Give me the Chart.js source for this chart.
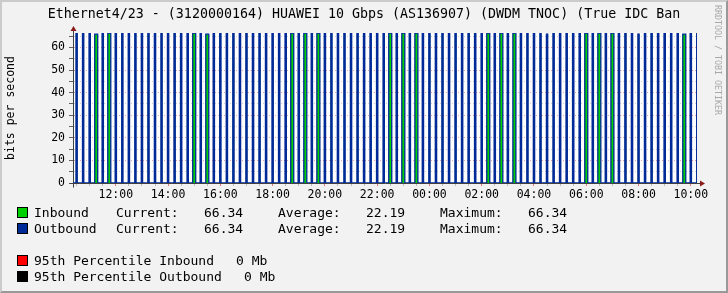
<!DOCTYPE html>
<html lang="en">
<head>
<meta charset="UTF-8">
<title>Ethernet4/23 traffic</title>
<script src="https://cdn.jsdelivr.net/npm/chart.js"></script>
<style>
    body {
        margin: 0;
        padding: 0;
        background: #f2f2f2;
    }
    #graph {
        position: relative;
        width: 728px;
        height: 293px;
        overflow: hidden;
        background: #f2f2f2;
        font-family: "DejaVu Sans Mono", monospace;
        color: #000;
    }
    #graph canvas {
        position: absolute;
        left: 0;
        top: 0;
    }
    #frame {
        position: absolute;
        left: 0;
        top: 0;
        width: 728px;
        height: 293px;
        box-sizing: border-box;
        border: 2px solid #cbcbcb;
        border-right-color: #999;
        border-bottom-color: #999;
        pointer-events: none;
    }
    #title {
        position: absolute;
        left: 0;
        top: 7px;
        width: 728px;
        text-align: center;
        font-size: 13.3px;
        line-height: 14px;
        white-space: pre;
    }
    #watermark {
        position: absolute;
        left: 713px;
        top: 5px;
        writing-mode: vertical-rl;
        font-size: 8.3px;
        color: #a8a8a8;
        white-space: pre;
    }
    .legend span {
        position: absolute;
        font-size: 13px;
        line-height: 16px;
        white-space: pre;
    }
    .swatch {
        position: absolute;
        left: 17px;
        width: 9px;
        height: 9px;
        border: 1px solid #000;
    }
</style>
</head>
<body>
<div id="graph">
    <canvas id="traffic" width="728" height="293"></canvas>
    <div id="title">Ethernet4/23 - (3120000164) HUAWEI 10 Gbps (AS136907) (DWDM TNOC) (True IDC Ban</div>
    <div id="watermark">RRDTOOL / TOBI OETIKER</div>
    <div class="legend" id="legend"></div>
    <div id="frame"></div>
</div>
<script>
    // sampled every 15 minutes, first spike at 10:30
    const firstSpike = 10.5;
    const spikeStep = 0.25;

    // peak value of each spike (bits per second)
    const inbound = [
        66.34, 66.34, 66.34, 65.9, 66.34, 66.34, 66.34, 66.34, 66.34, 66.34, 66.34, 66.34,
        66.34, 66.34, 66.34, 66.34, 66.34, 66.34, 66.34, 66.34, 65.9, 66.34, 66.34, 66.34,
        66.34, 66.34, 66.34, 66.34, 66.34, 66.34, 66.34, 66.34, 66.34, 66.34, 66.34, 66.34,
        66.34, 66.34, 66.34, 66.34, 66.34, 66.34, 66.34, 66.34, 66.34, 66.34, 66.34, 66.34,
        66.34, 66.34, 66.34, 66.34, 66.34, 66.34, 66.34, 66.34, 66.34, 66.34, 66.34, 66.34,
        66.34, 66.34, 66.34, 66.34, 66.34, 66.34, 66.34, 66.34, 66.34, 66.34, 66.34, 66.34,
        65.9, 66.34, 66.34, 66.34, 66.34, 66.34, 66.34, 66.34, 66.34, 66.34, 66.34, 66.34,
        66.34, 66.34, 65.9, 66.34, 66.34, 66.34, 66.34, 66.34, 66.34, 65.9, 66.34, 66.34
    ];
    const outbound = [
        66.34, 66.34, 66.34, 65.9, 66.34, 66.34, 66.34, 66.34, 66.34, 66.34, 66.34, 66.34,
        66.34, 66.34, 66.34, 66.34, 66.34, 66.34, 66.34, 66.34, 65.9, 66.34, 66.34, 66.34,
        66.34, 66.34, 66.34, 66.34, 66.34, 66.34, 66.34, 66.34, 66.34, 66.34, 66.34, 66.34,
        66.34, 66.34, 66.34, 66.34, 66.34, 66.34, 66.34, 66.34, 66.34, 66.34, 66.34, 66.34,
        66.34, 66.34, 66.34, 66.34, 66.34, 66.34, 66.34, 66.34, 66.34, 66.34, 66.34, 66.34,
        66.34, 66.34, 66.34, 66.34, 66.34, 66.34, 66.34, 66.34, 66.34, 66.34, 66.34, 66.34,
        65.9, 66.34, 66.34, 66.34, 66.34, 66.34, 66.34, 66.34, 66.34, 66.34, 66.34, 66.34,
        66.34, 66.34, 65.9, 66.34, 66.34, 66.34, 66.34, 66.34, 66.34, 65.9, 66.34, 66.34
    ];
    // spikes where the green inbound area shows (spread over more time)
    const wideSpikes = [3, 5, 18, 20, 33, 35, 37, 48, 50, 52, 63, 65, 67, 78, 80, 82, 93];

    // x axis in hours (past 24 means next day)
    const xMin = 10.362;
    const xMax = 34.237;
    const yMax = 66.4;

    const legendRows = [
        ['Inbound', 'Current:', '66.34', 'Average:', '22.19', 'Maximum:', '66.34'],
        ['Outbound', 'Current:', '66.34', 'Average:', '22.19', 'Maximum:', '66.34']
    ];
    const percentileRows = [
        ['95th Percentile Inbound', '0 Mb'],
        ['95th Percentile Outbound', '0 Mb']
    ];

    // legend (html text)
    const legend = document.getElementById('legend');
    const colX = [34, 116, 204, 278, 366, 440, 528];
    const swatchColors = ['#00cf00', '#002a97', '#ff0000', '#000000'];
    const rowY = [205, 221, 253, 269];
    function addText(txt, x, y) {
        const s = document.createElement('span');
        s.textContent = txt;
        s.style.left = x + 'px';
        s.style.top = y + 'px';
        legend.appendChild(s);
    }
    function addSwatch(color, y) {
        const d = document.createElement('div');
        d.className = 'swatch';
        d.style.background = color;
        d.style.top = (y + 2) + 'px';
        legend.appendChild(d);
    }
    legendRows.forEach((row, r) => {
        addSwatch(swatchColors[r], rowY[r]);
        row.forEach((txt, c) => addText(txt, colX[c], rowY[r]));
    });
    percentileRows.forEach((row, r) => {
        addSwatch(swatchColors[r + 2], rowY[r + 2]);
        addText(row[0], 34, rowY[r + 2]);
        addText(row[1], r === 0 ? 236 : 244, rowY[r + 2]);
    });

    function spikePoints(values) {
        const pts = [{x: xMin, y: 0}];
        values.forEach((v, i) => {
            const t = firstSpike + i * spikeStep;
            const half = (wideSpikes.includes(i) ? 0.115 : 0.05) / 2;
            pts.push({x: t - half, y: v}, {x: t + half, y: 0});
        });
        pts.push({x: xMax, y: 0});
        return pts;
    }

    const isMajor = (v, every) => Math.abs(v / every - Math.round(v / every)) < 1e-6;
    const tickFont = {family: 'DejaVu Sans Mono', size: 11.5};

    // white canvas behind the plot + rrdtool style arrows
    const plotDecor = {
        id: 'plotDecor',
        beforeDraw(chart) {
            const {ctx, chartArea: a} = chart;
            ctx.save();
            ctx.fillStyle = '#ffffff';
            ctx.fillRect(a.left, a.top, a.right - a.left, a.bottom - a.top);
            ctx.restore();
        },
        afterDraw(chart) {
            const {ctx, chartArea: a} = chart;
            const ax = Math.round(a.left) + 0.5;
            const ay = Math.round(a.bottom) + 0.5;
            ctx.save();
            ctx.strokeStyle = '#404040';
            ctx.lineWidth = 1;
            ctx.beginPath();
            ctx.moveTo(ax, a.top);
            ctx.lineTo(ax, a.top - 3);
            ctx.moveTo(ax, ay);
            ctx.lineTo(ax, ay + 4);
            ctx.moveTo(ax - 4, ay);
            ctx.lineTo(ax, ay);
            ctx.moveTo(a.right, ay);
            ctx.lineTo(a.right + 3, ay);
            ctx.stroke();
            ctx.fillStyle = '#8b1a1a';
            ctx.beginPath();
            ctx.moveTo(ax, a.top - 7);
            ctx.lineTo(ax - 3, a.top - 2);
            ctx.lineTo(ax + 3, a.top - 2);
            ctx.closePath();
            ctx.fill();
            ctx.beginPath();
            ctx.moveTo(a.right + 8, ay);
            ctx.lineTo(a.right + 3, ay - 3);
            ctx.lineTo(a.right + 3, ay + 3);
            ctx.closePath();
            ctx.fill();
            ctx.restore();
        }
    };

    const ctx = document.getElementById('traffic').getContext('2d');
    const trafficChart = new Chart(ctx, {
        type: 'line',
        data: {
            datasets: [{
                label: 'Outbound',
                data: spikePoints(outbound),
                borderColor: '#002a97',
                borderWidth: 1.3,
                fill: false,
                stepped: 'before',
                pointRadius: 0
            }, {
                label: 'Inbound',
                data: spikePoints(inbound),
                borderColor: 'rgba(0,0,0,0)',
                borderWidth: 0,
                backgroundColor: '#00cf00',
                fill: 'origin',
                stepped: 'before',
                pointRadius: 0
            }]
        },
        options: {
            responsive: false,
            animation: false,
            events: [],
            layout: {padding: {left: 0, top: 33, right: 31, bottom: 0}},
            plugins: {
                legend: {display: false},
                tooltip: {enabled: false}
            },
            scales: {
                x: {
                    type: 'linear',
                    min: xMin,
                    max: xMax,
                    afterFit: s => { s.height = 110; },
                    ticks: {
                        stepSize: 0.5,
                        includeBounds: false,
                        autoSkip: false,
                        maxRotation: 0,
                        padding: 2,
                        color: '#000',
                        font: tickFont,
                        callback: v => isMajor(v, 2) ? String(v % 24).padStart(2, '0') + ':00' : ''
                    },
                    grid: {
                        color: c => isMajor(c.tick.value, 2) ? 'rgba(220,90,90,0.55)' : 'rgba(150,150,150,0.45)',
                        tickColor: c => isMajor(c.tick.value, 2) ? 'rgba(220,90,90,0.8)' : 'rgba(150,150,150,0.6)',
                        tickLength: 3
                    },
                    border: {display: true, color: '#404040', dash: [1, 2]}
                },
                y: {
                    min: 0,
                    max: yMax,
                    afterFit: s => { s.width = 73; },
                    ticks: {
                        stepSize: 5,
                        includeBounds: false,
                        autoSkip: false,
                        padding: 4,
                        color: '#000',
                        font: tickFont,
                        callback: v => isMajor(v, 10) ? v : ''
                    },
                    grid: {
                        color: c => isMajor(c.tick.value, 10) ? 'rgba(220,90,90,0.55)' : 'rgba(150,150,150,0.45)',
                        tickColor: '#606060',
                        tickLength: 4
                    },
                    border: {display: true, color: '#404040', dash: [1, 2]},
                    title: {
                        display: true,
                        text: 'bits per second',
                        color: '#000',
                        font: {family: 'DejaVu Sans Mono', size: 11.5},
                        padding: {top: 4, bottom: 0}
                    }
                }
            }
        },
        plugins: [plotDecor]
    });
</script>
</body>
</html>
